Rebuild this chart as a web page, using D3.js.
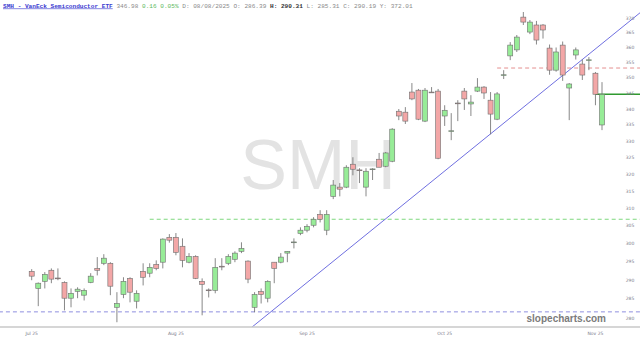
<!DOCTYPE html>
<html>
<head>
<meta charset="utf-8">
<script src="https://cdn.jsdelivr.net/npm/d3@7"></script>
<style>
  body { margin: 0; background: #fff; }
  svg { display: block; }
</style>
</head>
<body>
<div id="chart"></div>
<script>
// Daily candles, Jul 1 .. Nov 3 (one entry per trading day)
var OPENS  = [292.4,287.8,289.7,292.7,290.6,289.4,285.2,287.0,286.0,289.4,293.2,294.6,294.6,282.8,286.2,290.5,284.4,292.4,291.9,294.3,
              294.9,301.8,301.8,299.3,294.9,296.5,289.7,287.4,287.3,293.8,294.6,295.7,297.9,295.2,282.8,287.0,285.2,294.9,294.9,297.4,
              300.4,302.9,303.8,305.2,308.3,303.8,313.5,316.2,316.2,323.0,321.3,316.2,321.5,324.5,322.4,323.9,339.3,339.0,345.4,346.0,
              336.2,345.4,345.7,337.8,333.1,341.9,345.7,341.6,345.7,347.0,342.8,336.8,350.9,357.2,359.2,370.3,365.2,367.6,367.6,359.8,
              352.5,360.8,346.7,357.5,354.5,355.8,351.5,335.0];
var HIGHS  = [293.0,289.4,292.2,293.2,293.2,289.7,287.8,288.1,287.8,291.9,296.3,297.1,294.9,286.8,290.8,290.8,287.3,294.6,294.6,295.4,
              301.5,302.7,303.0,301.5,297.4,296.8,290.5,287.8,296.0,296.0,297.1,297.9,300.4,295.4,286.8,287.8,290.0,294.9,297.4,297.9,
              301.5,304.6,305.5,307.5,309.5,309.5,318.3,317.4,322.7,325.1,321.8,321.8,321.8,326.4,326.7,334.0,340.0,340.6,348.3,346.4,
              346.7,347.0,346.4,341.2,338.7,342.8,346.7,344.4,349.9,347.3,345.4,345.4,352.5,361.8,364.2,372.1,369.3,369.0,367.9,361.0,
              360.0,362.0,348.3,360.0,356.0,356.8,351.9,348.6];
var LOWS   = [290.0,283.1,287.8,289.2,290.0,282.0,282.8,285.2,284.6,289.2,291.3,294.1,286.0,278.9,285.2,284.1,282.5,288.6,290.8,292.7,
              293.2,300.3,296.8,293.5,294.6,290.3,280.7,285.4,286.5,292.7,294.1,294.9,297.4,289.2,281.5,283.8,284.1,289.2,294.6,294.9,
              298.7,302.4,303.2,304.6,306.0,302.4,312.7,313.5,315.9,319.7,317.4,313.5,318.3,322.1,322.1,323.6,336.5,335.3,342.8,336.5,
              335.9,345.1,324.5,334.7,330.3,336.2,339.7,337.8,345.4,343.2,332.1,336.5,349.6,355.8,358.5,367.6,364.5,361.0,363.0,351.0,
              352.0,349.0,336.5,356.0,349.3,352.5,341.2,333.4];
var CLOSES = [291.1,289.2,291.6,290.3,290.4,285.2,286.5,287.6,287.3,291.1,292.7,296.0,288.4,283.8,289.7,286.8,286.5,290.8,293.5,293.2,
              301.3,301.0,297.6,295.4,296.5,290.5,288.9,287.3,293.5,293.7,296.5,297.4,298.7,290.3,286.2,286.2,289.7,293.2,296.3,297.9,
              300.5,303.8,304.9,306.9,306.9,308.3,316.8,315.6,322.1,321.5,321.2,320.9,321.6,322.1,326.4,333.7,337.8,336.2,343.2,336.8,
              346.0,345.3,324.8,339.6,333.2,341.8,343.2,342.2,347.0,345.1,338.4,344.8,351.0,360.8,363.5,368.6,368.6,362.5,365.9,352.5,
              358.5,350.9,348.0,359.2,350.9,355.9,344.7,344.7];

// Axis labels
var MONTH_LABELS = ['Jul 25', 'Aug 25', 'Sep 25', 'Oct 25', 'Nov 25'];
var MONTH_INDEX  = [0, 22, 42, 63, 86];
var PRICE_TICKS  = [280,285,290,295,300,305,310,315,320,325,330,335,340,345,350,355,360,365,370];

// Horizontal levels drawn on the chart: [price, first candle index]
var LEVEL_PRICES = [281.6, 306.9, 353.2];
var LEVEL_START  = [-5, 18, 71];
var LEVEL_COLORS = ['#8f8fdf', '#7fd87f', '#e59090'];

// Trend line anchors: [candle index, price]
var TREND_IDX   = [33.5, 92.8];
var TREND_PRICE = [277.5, 371.8];

var W = 640, H = 339;

var svg = d3.select('#chart').append('svg')
  .attr('width', W).attr('height', H);

var x = d3.scaleLinear().domain([0, OPENS.length - 1]).range([31.7, 602]);
var y = d3.scaleLog().domain([280, 370]).range([318, 18]);

svg.append('defs').append('clipPath').attr('id', 'plot')
  .append('rect').attr('x', 0).attr('y', 12).attr('width', W).attr('height', 315);

// watermark
svg.append('text')
  .attr('x', 318).attr('y', 189)
  .attr('text-anchor', 'middle')
  .style('font-family', 'Liberation Sans, Arial, sans-serif')
  .style('font-size', '70px')
  .style('fill', '#e3e3e3')
  .text('SMH');

var plot = svg.append('g').attr('clip-path', 'url(#plot)');

// dashed levels
LEVEL_PRICES.forEach(function(p, i) {
  plot.append('line')
    .attr('x1', x(LEVEL_START[i])).attr('x2', W)
    .attr('y1', y(p)).attr('y2', y(p))
    .attr('stroke', LEVEL_COLORS[i])
    .attr('stroke-width', 1)
    .attr('stroke-dasharray', '4,3');
});

// trend line
plot.append('line')
  .attr('x1', x(TREND_IDX[0])).attr('y1', y(TREND_PRICE[0]))
  .attr('x2', x(TREND_IDX[1])).attr('y2', y(TREND_PRICE[1]))
  .attr('stroke', '#5f5fdc')
  .attr('stroke-width', 0.9);

// last close line
var last = CLOSES.length - 1;
plot.append('line')
  .attr('x1', x(last - 1)).attr('x2', W)
  .attr('y1', y(CLOSES[last])).attr('y2', y(CLOSES[last]))
  .attr('stroke', '#2f9a2f')
  .attr('stroke-width', 1.6);

// candles
var idx = d3.range(OPENS.length);
var bodyW = 5;

plot.selectAll('line.wick').data(idx).enter().append('line')
  .attr('class', 'wick')
  .attr('x1', function(i) { return x(i); })
  .attr('x2', function(i) { return x(i); })
  .attr('y1', function(i) { return y(HIGHS[i]); })
  .attr('y2', function(i) { return y(LOWS[i]); })
  .attr('stroke', '#6a6a6a')
  .attr('stroke-width', 0.8);

plot.selectAll('rect.body').data(idx).enter().append('rect')
  .attr('class', 'body')
  .attr('x', function(i) { return x(i) - bodyW / 2; })
  .attr('width', bodyW)
  .attr('y', function(i) { return y(Math.max(OPENS[i], CLOSES[i])); })
  .attr('height', function(i) {
    return Math.max(0.8, Math.abs(y(OPENS[i]) - y(CLOSES[i])));
  })
  .attr('fill', function(i) { return CLOSES[i] >= OPENS[i] ? '#97ec97' : '#f3a7a7'; })
  .attr('stroke', '#6f6f6f')
  .attr('stroke-width', 0.6);

// right price labels
svg.selectAll('text.ptick').data(PRICE_TICKS).enter().append('text')
  .attr('class', 'ptick')
  .attr('x', 630).attr('y', function(d) { return y(d) + 1.5; })
  .attr('text-anchor', 'middle')
  .style('font-family', 'DejaVu Sans, sans-serif')
  .style('font-size', '4.5px')
  .style('fill', '#7a7a8a')
  .text(function(d) { return d; });

// bottom separator and month labels
svg.append('line')
  .attr('x1', 0).attr('x2', W).attr('y1', 327).attr('y2', 327)
  .attr('stroke', '#c8c8c8').attr('stroke-width', 1.5);

svg.selectAll('text.mtick').data(MONTH_LABELS).enter().append('text')
  .attr('class', 'mtick')
  .attr('x', function(d, i) { return x(MONTH_INDEX[i]); })
  .attr('y', 335)
  .attr('text-anchor', 'middle')
  .style('font-family', 'DejaVu Sans, sans-serif')
  .style('font-size', '4.5px')
  .style('fill', '#7a7a8a')
  .text(function(d) { return d; });

// site tag
svg.append('text')
  .attr('x', 606).attr('y', 322)
  .attr('text-anchor', 'end')
  .style('font-family', 'Liberation Sans, Arial, sans-serif')
  .style('font-weight', 'bold')
  .style('font-size', '10px')
  .style('fill', '#7b7b7b')
  .text('slopecharts.com');

// header line
var head = svg.append('text')
  .attr('x', 3).attr('y', 7.5)
  .style('font-family', 'Liberation Mono, Courier New, monospace')
  .style('font-size', '6.1px')
  .style('fill', '#8a8a8a');
head.append('tspan').style('fill', '#3a3ad0').style('text-decoration', 'underline')
  .style('font-weight', 'bold').text('SMH - VanEck Semiconductor ETF');
head.append('tspan').text(' 346.98 ');
head.append('tspan').style('fill', '#5cb85c').text('0.16 0.05%');
head.append('tspan').text(' D: 08/08/2025 O: 286.39 ');
head.append('tspan').style('fill', '#333').style('font-weight', 'bold').text('H: 290.31');
head.append('tspan').text(' L: 285.31 C: 290.19 Y: 372.01');
</script>
</body>
</html>
